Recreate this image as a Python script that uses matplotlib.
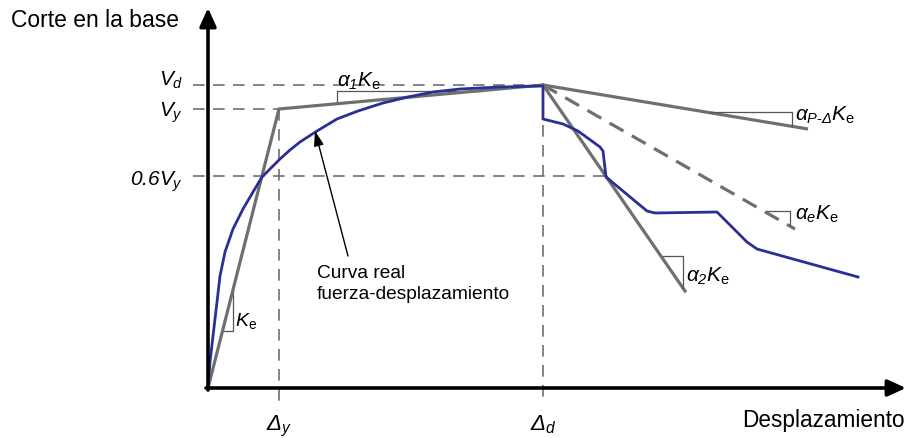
import numpy as np
import matplotlib
matplotlib.use("Agg")
import matplotlib.pyplot as plt

plt.rcParams['font.family'] = ['Liberation Sans', 'DejaVu Sans']
plt.rcParams['mathtext.fontset'] = 'custom'
plt.rcParams['mathtext.it'] = 'Liberation Sans:italic'
plt.rcParams['mathtext.rm'] = 'Liberation Sans'
plt.rcParams['mathtext.sf'] = 'Liberation Sans:italic'
plt.rcParams['mathtext.bf'] = 'Liberation Sans:bold'

# ---- schematic values (units relative to the origin) ----
Dy, Dd = 71, 335            # displacements Δy, Δd
Vy, Vd, V06 = 279, 303, 212 # shears Vy, Vd, 0.6Vy

bilin_x = [0, Dy, Dd]
bilin_y = [0, Vy, Vd]

# post-peak degrading lines (end points)
pdelta_end = (600, 259)
ae_end = (587, 159)
a2_end = (477, 97)

# real force-displacement curve
curve_x = [0, 2, 5, 9, 12, 17, 25, 35, 45, 54, 63, 72, 82, 92, 109, 129, 150, 175, 200, 225, 252, 292, 335,
           335, 355, 370, 392, 395, 398, 439, 447, 509, 539, 549, 650]
curve_y = [0, 26, 52, 86, 112, 136, 159, 179, 196, 211, 220, 229, 238, 246, 257, 269, 277, 285, 291, 296, 299, 301, 302,
           269, 264, 257, 241, 237, 211, 177, 175, 176, 146, 139, 111]

# slope triangles: (x list, y list)
tri_ke = ([14, 25, 25], [57, 57, 99])
tri_a1 = ([129, 129, 275], [286, 297, 297])
tri_pd = ([502, 584, 584], [276, 276, 262])
tri_ae = ([559, 582, 582], [177, 177, 164])
tri_a2 = ([455, 475, 475], [132, 132, 100])

W, H = 909, 439
fig = plt.figure(figsize=(W / 100, H / 100), dpi=100)
ax = fig.add_axes([0, 0, 1, 1])
ax.set_xlim(-208, W - 208)
ax.set_ylim(-(H - 389), 389)
ax.axis('off')

gray = '#6f6f6f'
blue = '#2a2f96'
dash_kw = dict(color='#707070', lw=1.2, dashes=(7, 5))

# dashed reference lines
ax.plot([-15, Dd], [Vd, Vd], **dash_kw)
ax.plot([-15, Dy], [Vy, Vy], **dash_kw)
ax.plot([-15, 399], [V06, V06], **dash_kw)
ax.plot([Dy, Dy], [Vy, -16], **dash_kw)
ax.plot([Dd, Dd], [Vd, -16], **dash_kw)

# degrading lines
ax.plot([Dd, pdelta_end[0]], [Vd, pdelta_end[1]], color=gray, lw=2.3, solid_capstyle='butt')
ax.plot([Dd, ae_end[0]], [Vd, ae_end[1]], color=gray, lw=2.3, dashes=(5, 3))
ax.plot([Dd, a2_end[0]], [Vd, a2_end[1]], color=gray, lw=2.3)

# triangles
for tx, ty in [tri_ke, tri_a1, tri_pd, tri_ae, tri_a2]:
    ax.plot(tx, ty, color='#555555', lw=0.9)

# bilinear
ax.plot(bilin_x, bilin_y, color=gray, lw=2.3, solid_joinstyle='miter')

# real curve
ax.plot(curve_x, curve_y, color=blue, lw=2.0, solid_joinstyle='round')

# axes with arrows
ax.annotate('', xy=(0, 380), xytext=(0, -2),
            arrowprops=dict(arrowstyle='-|>,head_length=1.1,head_width=0.5', color='black', lw=2.6,
                            shrinkA=0, shrinkB=0))
ax.annotate('', xy=(698, 0), xytext=(-2, 0),
            arrowprops=dict(arrowstyle='-|>,head_length=1.1,head_width=0.5', color='black', lw=2.6,
                            shrinkA=0, shrinkB=0))

ax.text(-197, 362, 'Corte en la base', fontsize=16.5, ha='left', va='baseline')
ax.text(697, -38, 'Desplazamiento', fontsize=16.3, ha='right', va='baseline')

fs = 15
ax.text(-25, 303, r'$V_d$', fontsize=fs, ha='right', va='baseline')
ax.text(-25, 272, r'$V_y$', fontsize=fs, ha='right', va='baseline')
ax.text(-25, 203, r'$\mathsf{0.6}V_y$', fontsize=fs, ha='right', va='baseline')
ax.text(Dy, -41, r'$\mathsf{\Delta}_y$', fontsize=16, ha='center', va='baseline')
ax.text(Dd, -41, r'$\mathsf{\Delta}_d$', fontsize=16, ha='center', va='baseline')

sfs = 15
ax.text(129, 302, r'$\alpha_\mathsf{1}K_\mathrm{e}$', fontsize=sfs, ha='left', va='baseline')
ax.text(587, 268, r'$\alpha_{P\text{-}\mathsf{\Delta}}K_\mathrm{e}$', fontsize=sfs, ha='left', va='baseline')
ax.text(587, 169, r'$\alpha_eK_\mathrm{e}$', fontsize=sfs, ha='left', va='baseline')
ax.text(478, 107, r'$\alpha_\mathsf{2}K_\mathrm{e}$', fontsize=sfs, ha='left', va='baseline')
ax.text(27, 63, r'$K_\mathrm{e}$', fontsize=14, ha='left', va='baseline')

ax.text(109, 111, 'Curva real', fontsize=13.75, ha='left', va='baseline')
ax.text(109, 90, 'fuerza-desplazamiento', fontsize=13.75, ha='left', va='baseline')
ax.annotate('', xy=(107, 257), xytext=(140, 132),
            arrowprops=dict(arrowstyle='-|>,head_length=0.9,head_width=0.3', color='black', lw=1.0,
                            shrinkA=0, shrinkB=0))

fig.savefig('out.png', dpi=100)
